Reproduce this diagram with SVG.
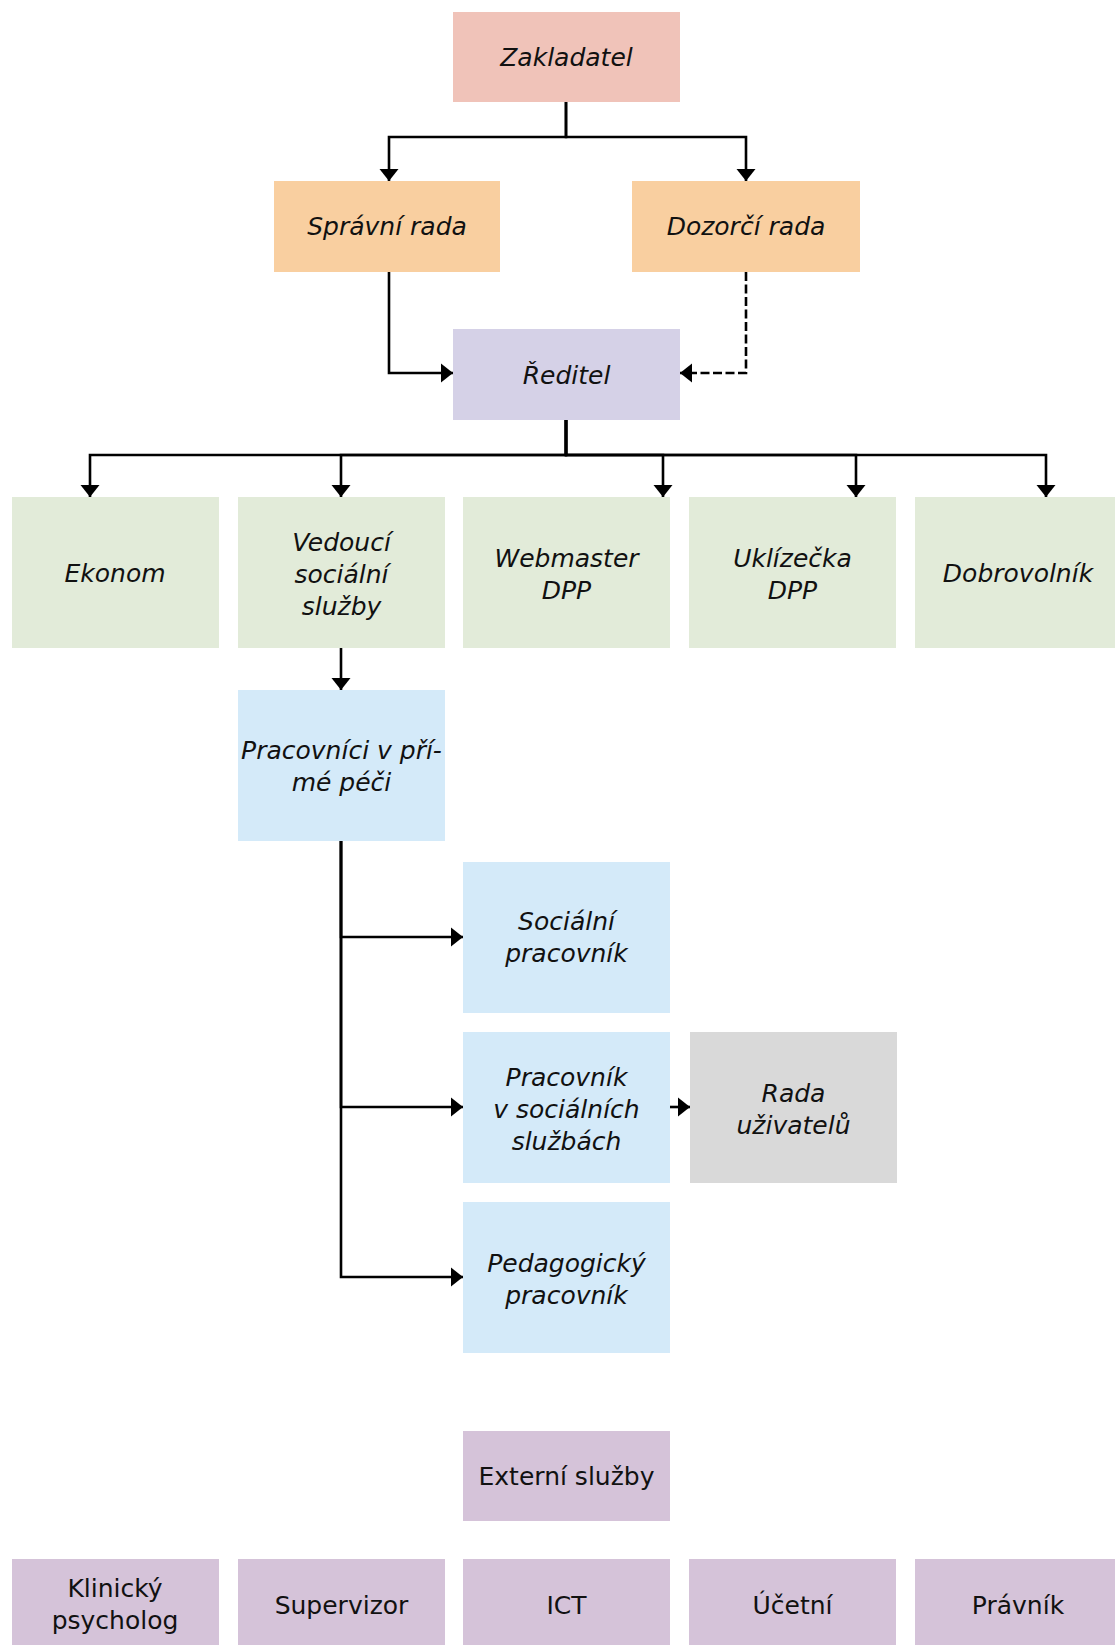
<svg xmlns="http://www.w3.org/2000/svg" width="1115" height="1645" viewBox="0 0 1115 1645">
<style>
  text { font-family: "DejaVu Sans", "Liberation Sans", sans-serif; font-size: 25px; fill: #111; text-anchor: middle; }
  .it { font-style: italic; }
  .zak { fill: #F0C3B9; }
  .rada { fill: #F9CFA0; }
  .red { fill: #D5D1E7; }
  .green { fill: #E2EBD9; }
  .blue { fill: #D4EAF9; }
  .gray { fill: #D9D9D9; }
  .ext { fill: #D5C3D9; }
  .edge { fill: none; stroke: #000; stroke-width: 2.6; marker-end: url(#arrow); }
  .dash { stroke-dasharray: 9 3.5; }
</style>
<defs>
  <marker id="arrow" markerUnits="userSpaceOnUse" markerWidth="13" markerHeight="20" refX="12" refY="10" orient="auto" viewBox="0 0 13 20">
    <path d="M0,0.5 L12,10 L0,19.5 Z" fill="#000"/>
  </marker>
</defs>
<rect width="1115" height="1645" fill="#fff"/>

<g id="connectors">
  <path class="edge" d="M566,102 V137 H389 V181"/>
  <path class="edge" d="M566,102 V137 H746 V181"/>
  <path class="edge" d="M389,272 V373 H453"/>
  <path class="edge dash" d="M746,272 V373 H680"/>
  <path class="edge" d="M566,420 V455 H90 V497"/>
  <path class="edge" d="M566,420 V455 H341 V497"/>
  <path class="edge" d="M566,420 V455 H663 V497"/>
  <path class="edge" d="M566,420 V455 H856 V497"/>
  <path class="edge" d="M566,420 V455 H1046 V497"/>
  <path class="edge" d="M341,648 V690"/>
  <path class="edge" d="M341,841 V937 H463"/>
  <path class="edge" d="M341,841 V1107 H463"/>
  <path class="edge" d="M341,841 V1277 H463"/>
  <path class="edge" d="M670,1107 H690"/>
</g>

<g id="zakladatel"><rect class="zak" x="453" y="12" width="227" height="90"/><text class="it" x="566.5" y="66">Zakladatel</text></g>
<g id="spravni-rada"><rect class="rada" x="274" y="181" width="226" height="91"/><text class="it" x="387" y="235">Správní rada</text></g>
<g id="dozorci-rada"><rect class="rada" x="632" y="181" width="228" height="91"/><text class="it" x="746" y="235">Dozorčí rada</text></g>
<g id="reditel"><rect class="red" x="453" y="329" width="227" height="91"/><text class="it" x="566.5" y="384">Ředitel</text></g>

<g id="ekonom"><rect class="green" x="12" y="497" width="207" height="151"/><text class="it" x="115" y="582">Ekonom</text></g>
<g id="vedouci"><rect class="green" x="238" y="497" width="207" height="151"/><text class="it" x="341.5" y="551">Vedoucí</text><text class="it" x="341.5" y="583">sociální</text><text class="it" x="341.5" y="615">služby</text></g>
<g id="webmaster"><rect class="green" x="463" y="497" width="207" height="151"/><text class="it" x="566.5" y="567">Webmaster</text><text class="it" x="566.5" y="599">DPP</text></g>
<g id="uklizecka"><rect class="green" x="689" y="497" width="207" height="151"/><text class="it" x="792.5" y="567">Uklízečka</text><text class="it" x="792.5" y="599">DPP</text></g>
<g id="dobrovolnik"><rect class="green" x="915" y="497" width="207" height="151"/><text class="it" x="1018" y="582">Dobrovolník</text></g>

<g id="prima-pece"><rect class="blue" x="238" y="690" width="207" height="151"/><text class="it" x="341.5" y="759">Pracovníci v pří-</text><text class="it" x="341.5" y="791">mé péči</text></g>
<g id="socialni-pracovnik"><rect class="blue" x="463" y="862" width="207" height="151"/><text class="it" x="566.5" y="930">Sociální</text><text class="it" x="566.5" y="962">pracovník</text></g>
<g id="pracovnik-ss"><rect class="blue" x="463" y="1032" width="207" height="151"/><text class="it" x="566.5" y="1086">Pracovník</text><text class="it" x="566.5" y="1118">v sociálních</text><text class="it" x="566.5" y="1150">službách</text></g>
<g id="rada-uzivatelu"><rect class="gray" x="690" y="1032" width="207" height="151"/><text class="it" x="793.5" y="1102">Rada</text><text class="it" x="793.5" y="1134">uživatelů</text></g>
<g id="pedagogicky"><rect class="blue" x="463" y="1202" width="207" height="151"/><text class="it" x="566.5" y="1272">Pedagogický</text><text class="it" x="566.5" y="1304">pracovník</text></g>

<g id="externi-sluzby"><rect class="ext" x="463" y="1431" width="207" height="90"/><text x="566.5" y="1485">Externí služby</text></g>
<g id="klinicky-psycholog"><rect class="ext" x="12" y="1559" width="207" height="90"/><text x="115" y="1597">Klinický</text><text x="115" y="1629">psycholog</text></g>
<g id="supervizor"><rect class="ext" x="238" y="1559" width="207" height="90"/><text x="341.5" y="1614">Supervizor</text></g>
<g id="ict"><rect class="ext" x="463" y="1559" width="207" height="90"/><text x="566.5" y="1614">ICT</text></g>
<g id="ucetni"><rect class="ext" x="689" y="1559" width="207" height="90"/><text x="792.5" y="1614">Účetní</text></g>
<g id="pravnik"><rect class="ext" x="915" y="1559" width="207" height="90"/><text x="1018" y="1614">Právník</text></g>
</svg>
